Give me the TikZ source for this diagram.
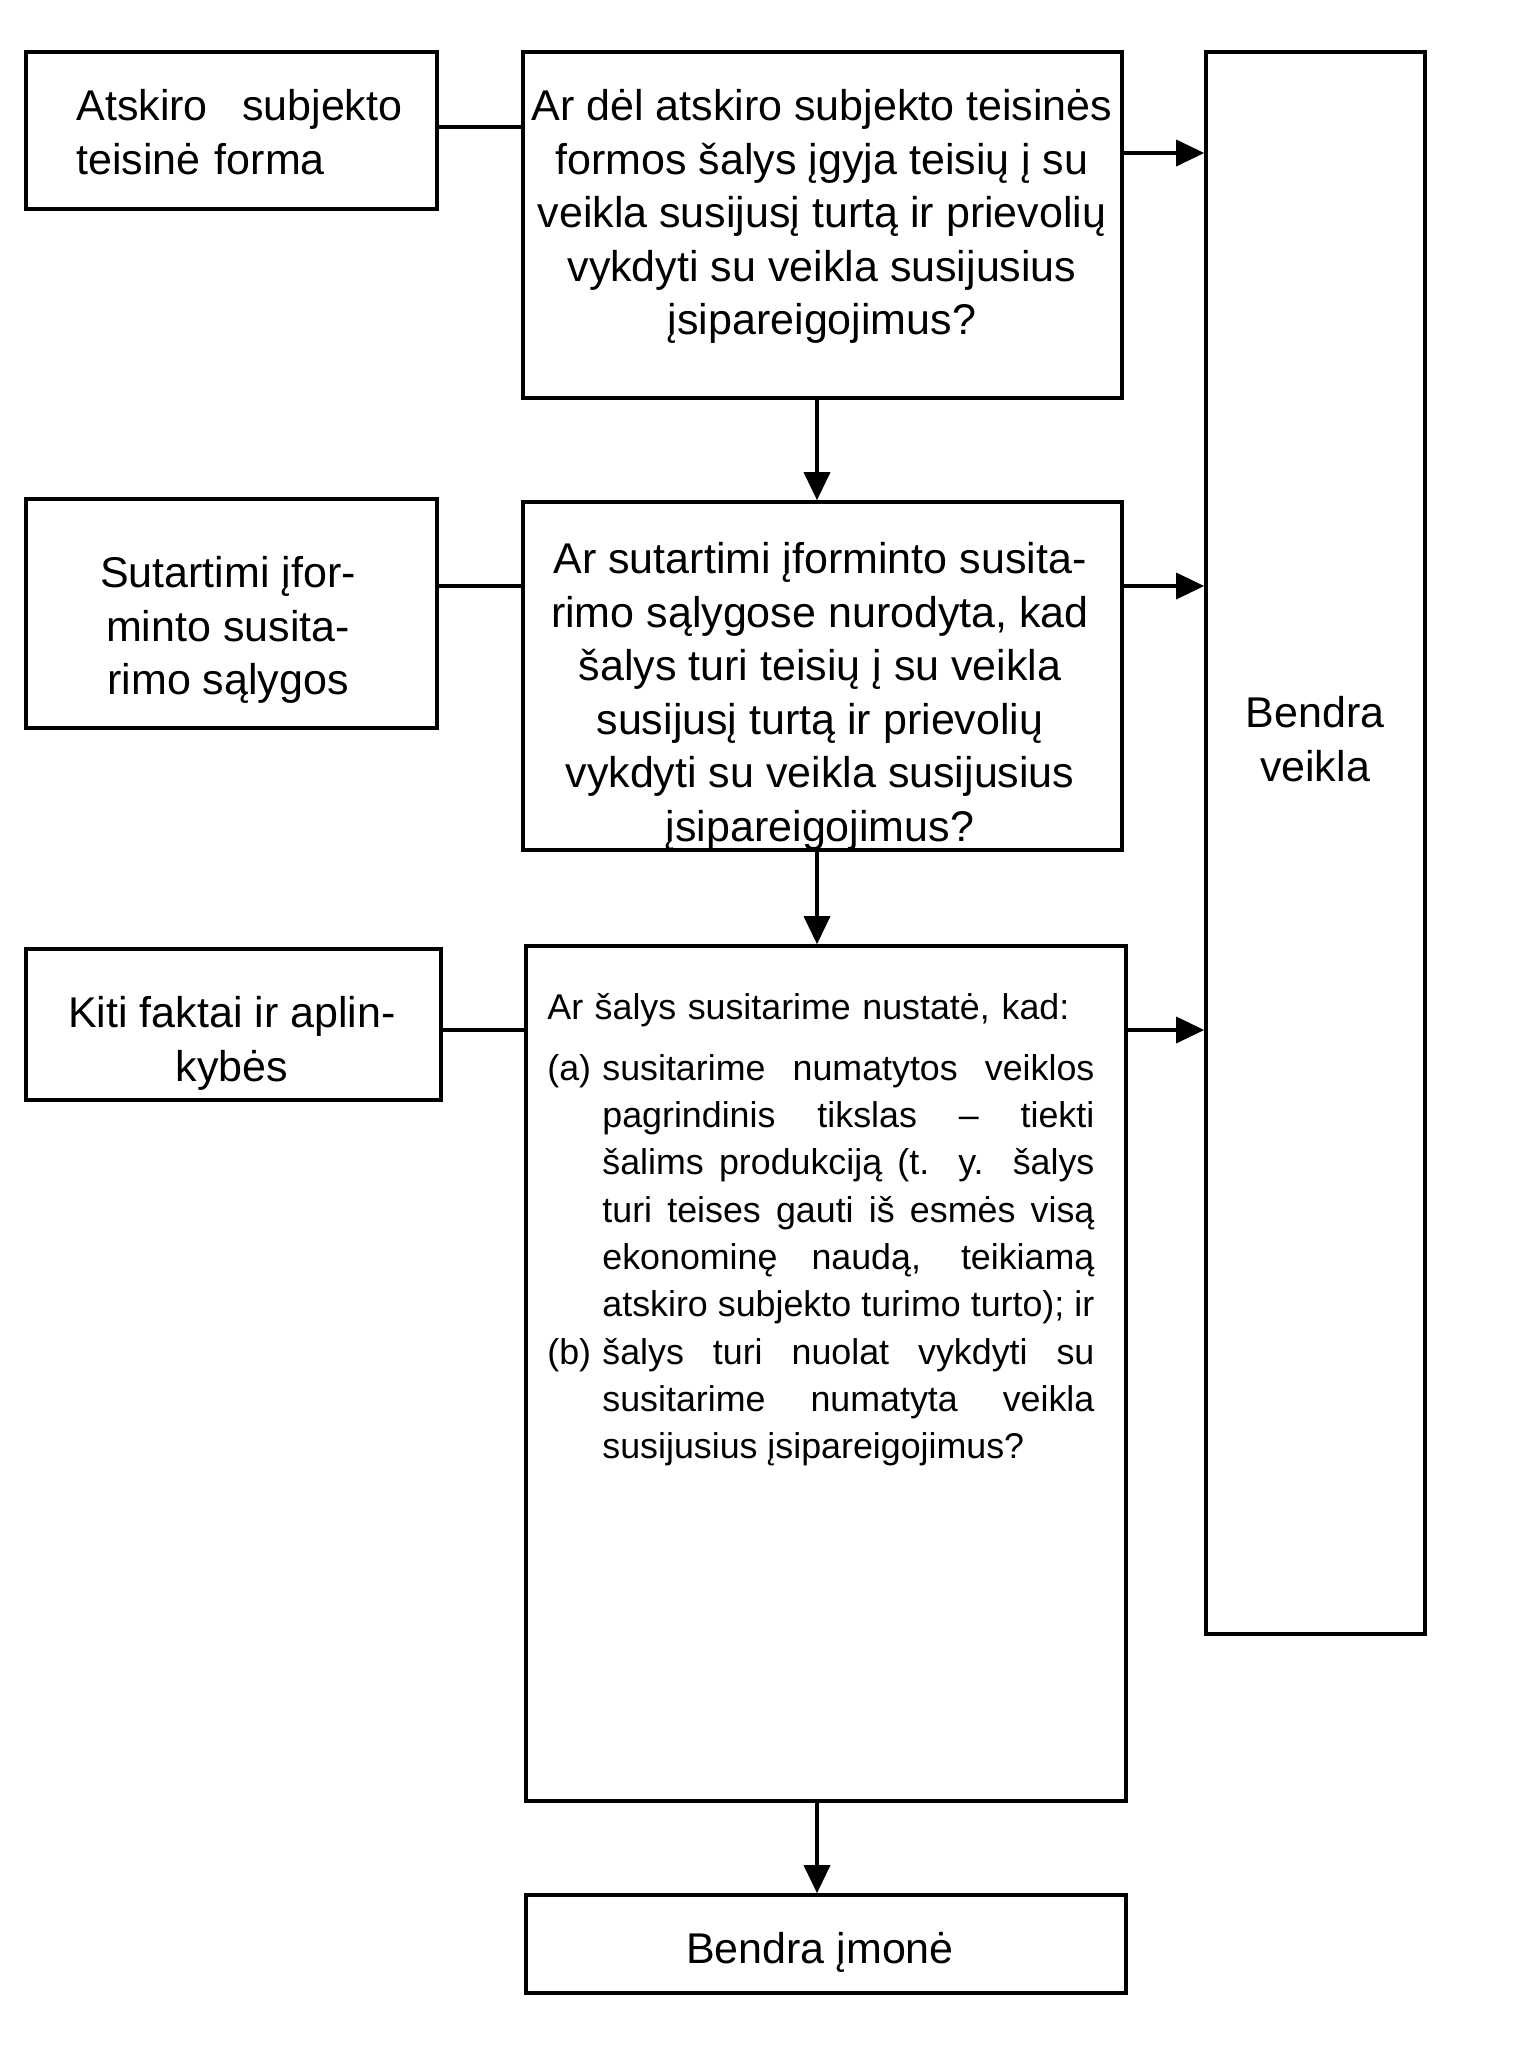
\documentclass[tikz,border=0pt]{standalone}
\usepackage{fontspec}
\setmainfont{Liberation Sans}
\usetikzlibrary{arrows.meta,fit}
\newcommand\myjl[1]{\makebox[246pt][s]{\spaceskip=0pt\xspaceskip=0pt #1}}
\newcommand\mylbl[1]{\makebox[27.5pt][l]{#1}}
\newcommand\myind{\hspace*{27.5pt}}
\begin{document}
\begin{tikzpicture}[x=0.5pt,y=-0.5pt,
  box/.style={draw, line width=1.8pt, inner sep=0pt},
  mtxt/.style={inner sep=0pt, font=\fontsize{21.5}{26.75}\selectfont, align=center},
  m3txt/.style={inner sep=0pt, font=\fontsize{17.9}{23.65}\selectfont, align=left},
  conn/.style={line width=1.8pt},
  arr/.style={line width=1.8pt, -{Triangle[length=14pt,width=13pt]}}]
\useasboundingbox (0,0) rectangle (1540,2047);
% boxes
\node[box, fit={(26,52) (437,209)}] (l1) {};
\node[box, fit={(523,52) (1122,398)}] (m1) {};
\node[box, fit={(1206,52) (1425,1634)}] (r) {};
\node[box, fit={(26,499) (437,728)}] (l2) {};
\node[box, fit={(523,502) (1122,850)}] (m2) {};
\node[box, fit={(26,949) (441,1100)}] (l3) {};
\node[box, fit={(526,946) (1126,1801)}] (m3) {};
\node[box, fit={(526,1895) (1126,1993)}] (b) {};
% texts
\node[mtxt, anchor=north west, text width=163pt, align=left] (tl1) at (76,89)
  {\makebox[163pt][s]{\spaceskip=0pt Atskiro subjekto}\\teisinė forma};
\node[mtxt, anchor=north] (tm1) at (822,89)
  {Ar dėl atskiro subjekto teisinės\\formos šalys įgyja teisių į su\\veikla susijusį turtą ir prievolių\\vykdyti su veikla susijusius\\įsipareigojimus?};
\node[mtxt, anchor=north] (tl2) at (228,556)
  {Sutartimi įfor-\\minto susita-\\rimo sąlygos};
\node[mtxt, anchor=north] (tm2) at (820,542)
  {Ar sutartimi įforminto susita-\\rimo sąlygose nurodyta, kad\\šalys turi teisių į su veikla\\susijusį turtą ir prievolių\\vykdyti su veikla susijusius\\įsipareigojimus?};
\node[mtxt, anchor=north] (tl3) at (232,996)
  {Kiti faktai ir aplin-\\kybės};
\node[mtxt, anchor=north] (tr) at (1315,696)
  {Bendra\\veikla};
\node[mtxt, anchor=base] (tb) at (820,1963) {Bendra įmonė};
\node[m3txt, anchor=north west, text width=274pt] (tm3) at (547,993)
  {\makebox[261pt][s]{\spaceskip=0pt\xspaceskip=0pt Ar šalys susitarime nustatė, kad:}\\[6.8pt]
   \mylbl{(a)}\myjl{susitarime numatytos veiklos}\\
   \myind\myjl{pagrindinis tikslas – tiekti}\\
   \myind\myjl{šalims produkciją (t. y. šalys}\\
   \myind\myjl{turi teises gauti iš esmės visą}\\
   \myind\myjl{ekonominę naudą, teikiamą}\\
   \myind\myjl{atskiro subjekto turimo turto); ir}\\
   \mylbl{(b)}\myjl{šalys turi nuolat vykdyti su}\\
   \myind\myjl{susitarime numatyta veikla}\\
   \myind{\spaceskip=0pt susijusius įsipareigojimus?}};
% connectors
\coordinate (ya) at (0,127);
\coordinate (yb) at (0,153);
\coordinate (yc) at (0,586);
\coordinate (yd) at (0,1030);
\coordinate (xv) at (817,0);
\draw[conn] (l1.east |- ya) -- (m1.west |- ya);
\draw[arr] (m1.east |- yb) -- (r.west |- yb);
\draw[conn] (l2.east |- yc) -- (m2.west |- yc);
\draw[arr] (m2.east |- yc) -- (r.west |- yc);
\draw[conn] (l3.east |- yd) -- (m3.west |- yd);
\draw[arr] (m3.east |- yd) -- (r.west |- yd);
\draw[arr] (m1.south -| xv) -- (m2.north -| xv);
\draw[arr] (m2.south -| xv) -- (m3.north -| xv);
\draw[arr] (m3.south -| xv) -- (b.north -| xv);
\end{tikzpicture}
\end{document}
